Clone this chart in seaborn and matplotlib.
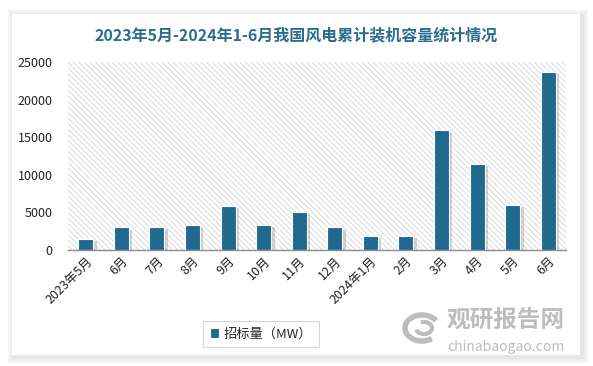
import matplotlib
matplotlib.use("Agg")
import matplotlib.pyplot as plt
import matplotlib.patheffects as pe
from matplotlib.patches import Rectangle, Arc
import pandas as pd
import seaborn as sns

months = ["2023年5月", "6月", "7月", "8月", "9月", "10月", "11月", "12月",
          "2024年1月", "2月", "3月", "4月", "5月", "6月"]
capacity = [1500, 3000, 3100, 3300, 5900, 3300, 5000, 3000,
            1900, 1900, 16000, 11500, 6000, 23700]
series_name = "招标量（MW）"
title = "2023年5月-2024年1-6月我国风电累计装机容量统计情况"

BAR_COLOR = "#1f6a8e"
TITLE_COLOR = "#2b6d8d"
MARK_GREY = "#bdbdbd"

sns.set_style("white")
plt.rcParams["font.family"] = ["Noto Sans CJK SC", "DejaVu Sans"]
plt.rcParams["hatch.linewidth"] = 0.6
plt.rcParams["hatch.color"] = "#d4d4d4"

# month labels repeat across years, so bars are placed by index
df = pd.DataFrame({"idx": range(len(months)), "value": capacity})

fig = plt.figure(figsize=(5.93, 3.66), dpi=100)
fig.patch.set_facecolor("white")

# card with soft shadow
for i, c in enumerate(["#f5f5f5", "#eeeeee", "#e6e6e6"]):
    d = 6 - 2 * i
    fig.patches.append(Rectangle(((12 - d + 2) / 593, 1 - (355 + d + 2) / 366),
                                 (568 + 2 * d) / 593, (341 + 2 * d) / 366,
                                 transform=fig.transFigure, facecolor=c,
                                 edgecolor="none", zorder=-3 + i * 0.1))
fig.patches.append(Rectangle((12 / 593, 1 - 355 / 366), 568 / 593, 341 / 366,
                             transform=fig.transFigure, facecolor="white",
                             edgecolor="none", zorder=-2))

ax = fig.add_axes([68 / 593, 1 - 250 / 366, 498 / 593, 188 / 366])
ax.set_zorder(1)
ax.set_facecolor("none")
ax.add_patch(Rectangle((0, 0), 1, 1, transform=ax.transAxes, facecolor="white",
                       edgecolor="#d4d4d4", hatch="\\" * 6, linewidth=0, zorder=0))

sns.barplot(data=df, x="idx", y="value", color=BAR_COLOR, width=0.42,
            saturation=1, edgecolor="white", linewidth=0.8, ax=ax,
            label=series_name, zorder=2)
for p in ax.patches[1:]:
    p.set_path_effects([pe.SimplePatchShadow(offset=(2.5, -1.5), shadow_rgbFace="#888888", alpha=0.35),
                        pe.Normal()])

ax.set_ylim(0, 25000)
ax.set_yticks(range(0, 25001, 5000))
ax.set_xlim(-0.5, len(months) - 0.5)
ax.set_xticks(range(len(months)))
ax.set_xticklabels(months)
ax.set_xlabel("")
ax.set_ylabel("")
for s in ["top", "right", "left"]:
    ax.spines[s].set_visible(False)
ax.spines["bottom"].set_color("#8c8c8c")
ax.spines["bottom"].set_linewidth(1)
ax.tick_params(axis="both", length=0, labelsize=9, colors="#222222")
ax.tick_params(axis="y", pad=11)
plt.setp(ax.get_xticklabels(), rotation=45, ha="right", rotation_mode="anchor")

fig.text(0.5, 1 - 35 / 366, title, ha="center", va="center", fontsize=11.5,
         fontweight="bold", color=TITLE_COLOR)

leg = ax.legend(loc="center", bbox_to_anchor=(261 / 593, 1 - 334 / 366),
                bbox_transform=fig.transFigure, frameon=True, fontsize=9.5,
                handlelength=0.7, handleheight=0.7, handletextpad=0.3,
                borderpad=0.5, fancybox=False)
leg.get_frame().set_edgecolor("#cccccc")
leg.get_frame().set_linewidth(0.8)
for h in leg.legend_handles:
    h.set_path_effects([])

# watermark: swirl logo + site name
fig.patches.append(Arc((422 / 593, 1 - 328 / 366), 34 / 593, 26 / 366, theta1=40, theta2=300,
                       transform=fig.transFigure, color=MARK_GREY, linewidth=4, zorder=5))
fig.patches.append(Arc((424 / 593, 1 - 328 / 366), 16 / 593, 12 / 366, theta1=200, theta2=470,
                       transform=fig.transFigure, color=MARK_GREY, linewidth=3, zorder=5))
fig.text(506 / 593, 1 - 320 / 366, "观研报告网", ha="center", va="center",
         fontsize=17, fontweight="bold", color=MARK_GREY, zorder=5)
fig.text(506 / 593, 1 - 347 / 366, "chinabaogao.com", ha="center", va="center",
         fontsize=10, color=MARK_GREY, zorder=5)

fig.savefig("out.png", dpi=100, facecolor=fig.get_facecolor())
